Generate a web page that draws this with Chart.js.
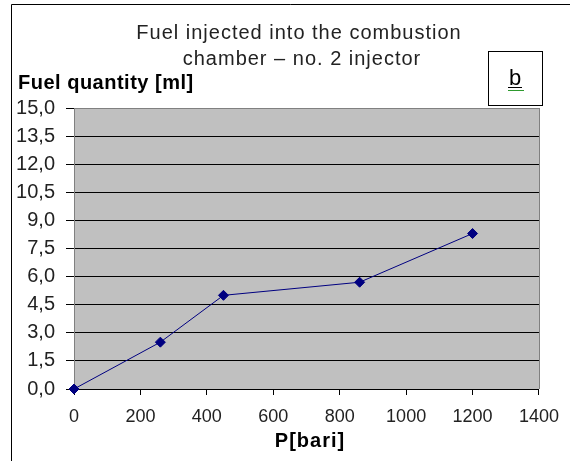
<!DOCTYPE html>
<html>
<head>
<meta charset="utf-8">
<script src="https://cdn.jsdelivr.net/npm/chart.js@4"></script>
<style>
  body { margin: 0; background: #fff; }
</style>
</head>
<body>
<canvas id="grafica" width="570" height="461"></canvas>
<script>
// datos
const presion = [0, 260, 450, 860, 1200];      // P [bari]
const combustible = [0, 2.5, 5.0, 5.7, 8.3];   // Fuel quantity [ml]
const titulo = ["Fuel injected into the combustion", "chamber \u2013 no. 2 injector"];
const tituloY = "Fuel quantity [ml]";
const tituloX = "P[bari]";
const etiqueta = "b";

let puntos = presion.map((p, i) => ({ x: p, y: combustible[i] }));

// fondo gris y marco del area del grafico
const fondo = {
    id: "fondo",
    beforeDraw(chart) {
        let { ctx, chartArea: a } = chart;
        ctx.save();
        ctx.fillStyle = "#c0c0c0";
        ctx.fillRect(a.left, a.top, a.right - a.left, a.bottom - a.top);
        ctx.restore();
    },
    beforeDatasetsDraw(chart) {
        let { ctx, chartArea: a } = chart;
        ctx.save();
        ctx.strokeStyle = "#808080";
        ctx.lineWidth = 1;
        ctx.beginPath();
        ctx.moveTo(Math.round(a.right) + 0.5, a.top);
        ctx.lineTo(Math.round(a.right) + 0.5, a.bottom);
        ctx.stroke();
        ctx.restore();
    }
};

// textos, recuadro "b" y borde exterior
const textos = {
    id: "textos",
    afterDraw(chart) {
        let ctx = chart.ctx;
        ctx.save();

        // borde exterior (solo arriba e izquierda)
        ctx.strokeStyle = "#000";
        ctx.lineWidth = 1;
        ctx.beginPath();
        ctx.moveTo(11.5, 461);
        ctx.lineTo(11.5, 4.5);
        ctx.lineTo(570, 4.5);
        ctx.stroke();

        // titulo
        ctx.fillStyle = "#222";
        ctx.font = "20px 'Liberation Sans', Arial, sans-serif";
        ctx.letterSpacing = "1px";
        ctx.textAlign = "center";
        ctx.textBaseline = "alphabetic";
        ctx.fillText(titulo[0], 299, 39);
        ctx.fillText(titulo[1], 302, 65);

        // titulo eje Y
        ctx.fillStyle = "#000";
        ctx.font = "bold 20px 'Liberation Sans', Arial, sans-serif";
        ctx.letterSpacing = "0.5px";
        ctx.textAlign = "left";
        ctx.fillText(tituloY, 18, 89);

        // titulo eje X
        ctx.letterSpacing = "1px";
        ctx.textAlign = "center";
        ctx.fillText(tituloX, 310, 447);

        // recuadro b
        ctx.letterSpacing = "0px";
        ctx.fillStyle = "#fff";
        ctx.fillRect(488.5, 51.5, 54, 54);
        ctx.strokeStyle = "#000";
        ctx.strokeRect(488.5, 51.5, 54, 54);
        ctx.fillStyle = "#000";
        ctx.font = "22px 'Liberation Sans', Arial, sans-serif";
        ctx.fillText(etiqueta, 515, 85);
        ctx.beginPath();
        ctx.moveTo(508, 87.5);
        ctx.lineTo(522, 87.5);
        ctx.stroke();
        // subrayado ondulado verde
        ctx.strokeStyle = "#2e9a2e";
        ctx.beginPath();
        ctx.moveTo(508, 90);
        for (let x = 508; x < 523; x += 2) {
            ctx.lineTo(x + 1, 91);
            ctx.lineTo(x + 2, 90);
        }
        ctx.stroke();

        ctx.restore();
    }
};

let ctx = document.getElementById("grafica");

new Chart(ctx, {
    type: "scatter",
    data: {
        datasets: [{
            data: puntos,
            showLine: true,
            borderColor: "#000080",
            borderWidth: 1,
            backgroundColor: "#000080",
            pointStyle: "rectRot",
            pointRadius: 5,
            pointHoverRadius: 5,
            clip: false
        }]
    },
    options: {
        responsive: false,
        animation: false,
        events: [],
        layout: { padding: { top: 108, right: 28, left: 0, bottom: 0 } },
        plugins: {
            legend: { display: false },
            title: { display: false },
            tooltip: { enabled: false }
        },
        scales: {
            x: {
                type: "linear",
                min: 0,
                max: 1400,
                afterFit(scale) { scale.height = 72; },
                ticks: {
                    stepSize: 200,
                    padding: 11,
                    color: "#222",
                    font: { family: "'Liberation Sans', Arial, sans-serif", size: 18 },
                    callback: v => String(v)
                },
                grid: {
                    drawOnChartArea: false,
                    drawTicks: true,
                    tickLength: 6,
                    color: "#000"
                },
                border: { color: "#000", width: 1 }
            },
            y: {
                min: 0,
                max: 15,
                afterFit(scale) { scale.width = 74; },
                ticks: {
                    stepSize: 1.5,
                    padding: 11,
                    color: "#222",
                    font: { family: "'Liberation Sans', Arial, sans-serif", size: 20 },
                    callback: v => v.toFixed(1).replace(".", ",")
                },
                grid: {
                    color: c => (c.tick && c.tick.value === 15) ? "#808080" : "#000",
                    tickColor: "#000",
                    tickLength: 8,
                    lineWidth: 1
                },
                border: { color: "#808080", width: 1 }
            }
        }
    },
    plugins: [fondo, textos]
});
</script>
</body>
</html>
